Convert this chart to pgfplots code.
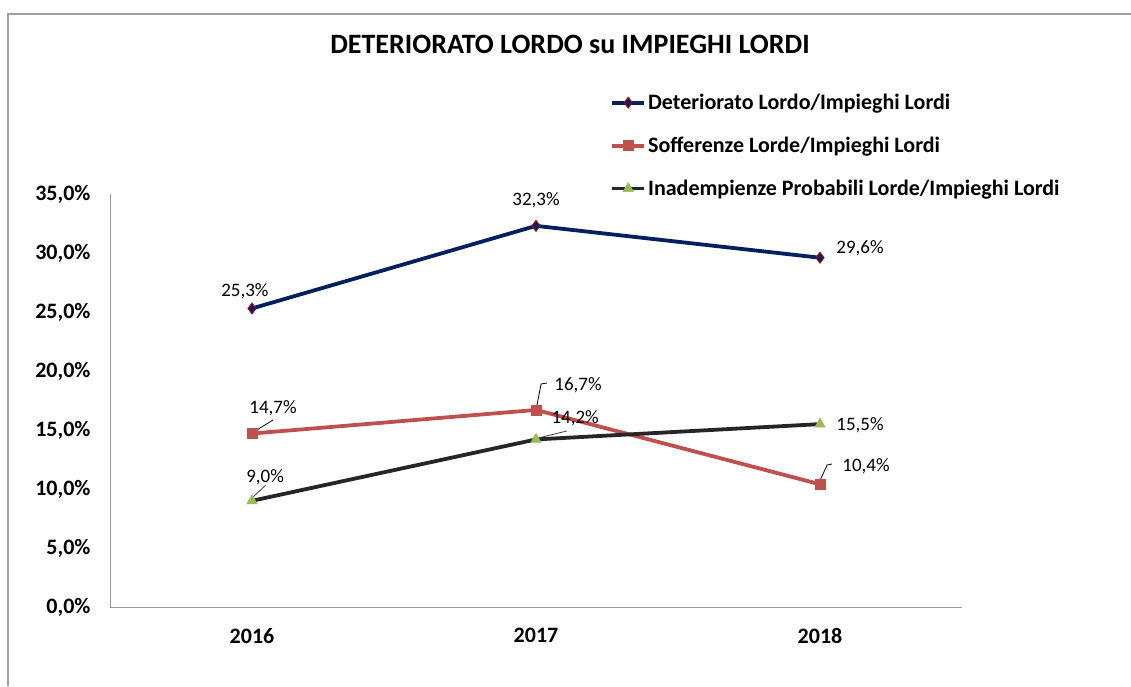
\documentclass[border=0pt]{standalone}
\usepackage{fontspec}
\setmainfont{Carlito}
\usepackage{pgfplots}
\pgfplotsset{compat=1.18}
\definecolor{navy}{RGB}{0,32,96}
\definecolor{dred}{RGB}{192,0,0}
\definecolor{sred}{RGB}{192,80,77}
\definecolor{dgray}{RGB}{38,38,38}
\definecolor{sgreen}{RGB}{155,187,89}
\definecolor{frame}{RGB}{160,160,160}
\begin{document}
\begin{tikzpicture}
\useasboundingbox (0pt,0pt) rectangle (1131pt,686pt);
\draw[frame, line width=1.5pt] (8pt,0pt) -- (8pt,672pt) -- (1131pt,672pt);
\node[font=\bfseries\fontsize{28}{28}\selectfont] at (570pt,642pt) {DETERIORATO LORDO su IMPIEGHI LORDI};
\begin{axis}[
  at={(110pt,79pt)}, anchor=south west,
  scale only axis, width=852pt, height=413pt,
  xmin=-0.5, xmax=2.5, ymin=0, ymax=35,
  axis lines*=left,
  axis line style={draw=gray!80, line width=1pt, -},
  xtick={0,1,2}, xticklabels={2016,2017,2018},
  ytick={0,5,10,15,20,25,30,35},
  yticklabels={{0,0\%},{5,0\%},{10,0\%},{15,0\%},{20,0\%},{25,0\%},{30,0\%},{35,0\%}},
  major tick length=0pt,
  tick label style={font=\bfseries\fontsize{22}{22}\selectfont},
  yticklabel style={xshift=-16pt},
  xticklabel style={yshift=-18pt},
  clip=false,
  legend style={at={(0.587,1.247)}, anchor=north west, draw=none, fill=none,
    font=\bfseries\fontsize{22}{22}\selectfont, row sep=22pt,
    inner xsep=0pt, inner ysep=0pt},
  legend cell align=left,
  legend image code/.code={\draw[mark repeat=2,mark phase=2] plot coordinates {(0pt,0pt)(16pt,0pt)(32pt,0pt)};},
]
\addplot[navy, line width=3.8pt, mark=diamond*, mark size=5.5pt,
  mark options={fill=navy, draw=dred, line width=0.8pt}]
  coordinates {(0,25.3) (1,32.3) (2,29.6)};
\addlegendentry{Deteriorato Lordo/Impieghi Lordi}
\addplot[sred, line width=3.8pt, mark=square*, mark size=5pt,
  mark options={fill=sred, draw=sred, line width=0.5pt}]
  coordinates {(0,14.7) (1,16.7) (2,10.4)};
\addlegendentry{Sofferenze Lorde/Impieghi Lordi}
\addplot[dgray, line width=3.8pt, mark=triangle*, mark size=6pt,
  mark options={fill=sgreen, draw=sgreen, line width=0.5pt}]
  coordinates {(0,9.0) (1,14.2) (2,15.5)};
\addlegendentry{Inadempienze Probabili Lorde/Impieghi Lordi}

\begin{scope}[every node/.style={font=\fontsize{19}{19}\selectfont}]
\node at (axis cs:-0.025,26.78) {25,3\%};
\node at (axis cs:1,34.49) {32,3\%};
\node at (axis cs:2.141,30.42) {29,6\%};
\node at (axis cs:0.074,16.86) {14,7\%};
\node at (axis cs:1.148,18.81) {16,7\%};
\node at (axis cs:2.162,11.95) {10,4\%};
\node at (axis cs:0.046,11.02) {9,0\%};
\node at (axis cs:1.138,16.02) {14,2\%};
\node at (axis cs:2.141,15.42) {15,5\%};
\end{scope}
\draw[black, line width=0.8pt] (axis cs:0,14.75) -- (axis cs:0.074,15.85);
\draw[black, line width=0.8pt] (axis cs:1,16.69) -- (axis cs:1.018,18.90) -- (axis cs:1.039,18.98);
\draw[black!70!olive, line width=0.8pt] (axis cs:1.007,14.32) -- (axis cs:1.109,14.92);
\draw[black!70!olive, line width=0.8pt] (axis cs:0,9.24) -- (axis cs:0.049,10.34);
\draw[black, line width=0.8pt] (axis cs:1.996,10.51) -- (axis cs:2.025,12.03) -- (axis cs:2.042,12.12);
\end{axis}
\end{tikzpicture}
\end{document}
